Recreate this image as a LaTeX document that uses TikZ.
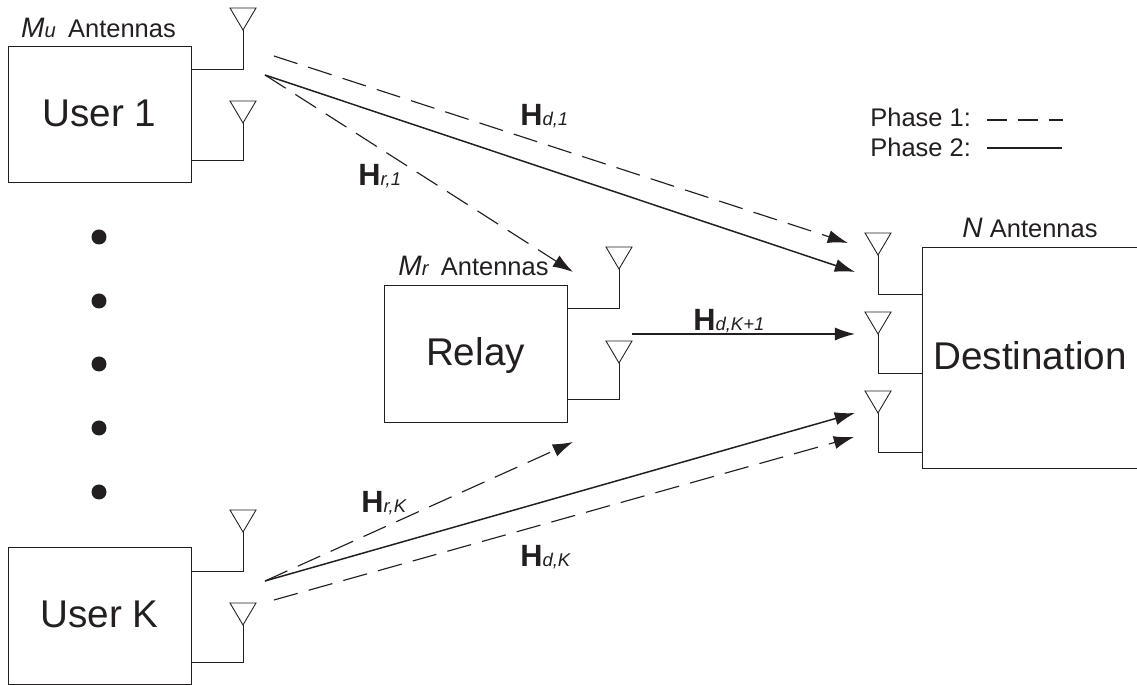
\documentclass[tikz,border=0pt]{standalone}
\usepackage{fontspec}
\setmainfont{Liberation Sans}
\usetikzlibrary{arrows.meta}

\definecolor{inkdark}{HTML}{231F20}
\newcommand{\chan}[1]{{\fontsize{17.5}{18}\selectfont\bfseries H}{\fontsize{10.5}{12}\selectfont\itshape #1}}
\newcommand{\ants}[1]{{\fontsize{16}{18}\selectfont\itshape #1}}
\newcommand{\antsub}[1]{{\fontsize{11.5}{12}\selectfont\itshape #1}}

\tikzset{
  unit/.style={draw=inkdark, line width=0.55pt, inner sep=0pt, minimum width=3.66cm, minimum height=2.74cm,
    text=inkdark, text height=15.75pt, text depth=2.3pt, font=\fontsize{22}{26}\selectfont},
  txt/.style={inner sep=0pt, text=inkdark, font=\fontsize{14.5}{16}\selectfont},
  chlabel/.style={inner sep=0pt, text=inkdark, anchor=base west},
  wire/.style={draw=inkdark, line width=0.5pt},
  phaseone/.style={draw=inkdark, line width=0.65pt, dash pattern=on 14pt off 6.5pt, -{Latex[length=11.5pt,width=7.5pt]}},
  phasetwo/.style={draw=inkdark, line width=0.85pt, -{Latex[length=11.5pt,width=7.5pt]}},
}

\begin{document}
\begin{tikzpicture}[x=0.02cm, y=-0.02cm]
  \useasboundingbox (0,0) rectangle (1137,685);

  % Boxes
  \node[unit] (user1) at (99.5,114.5) {User 1};
  \node[unit] (userk) at (99.5,616) {User K};
  \node[unit] (relay) at (475.5,354) {Relay};
  \node[unit, draw=none, minimum width=4.28cm, minimum height=4.4cm] (dest) at (1030,358) {Destination};
  \draw[wire] (dest.north east) -- (dest.north west) -- (dest.south west) -- (dest.south east);

  % Antennas: tip, then the point where the feed meets the box
  \foreach \tx/\ty/\fx/\fy in {243/30/191/69, 243/123/191/160, 243/532/191/571, 243/625/191/662,
                               619/269/567/308, 619/363/567/399,
                               878/255/923/294, 878/334/923/373, 878/413/923/452} {
    \draw[wire] (\tx,\ty) -- ++(-13,-22) -- ++(26,0) -- cycle;
    \draw[wire] (\tx,\ty) |- (\fx,\fy);
  }

  % Dots
  \foreach \y in {237,301,364,428,492} {
    \fill[inkdark] (99,\y) circle (7.5);
  }

  % Channel end points
  \coordinate (u1a) at (274,56);
  \coordinate (u1b) at (265,75);
  \coordinate (uka) at (265,581);
  \coordinate (ukb) at (274,600);
  \coordinate (ra) at (632,334);
  \coordinate (da) at (848,243);
  \coordinate (db) at (855,272);
  \coordinate (dc) at (855,334);
  \coordinate (dd) at (855,413);
  \coordinate (de) at (854,437);
  \coordinate (rb) at (573,272);
  \coordinate (rc) at (573,442);

  \draw[phaseone] (u1a) -- (da);
  \draw[phasetwo] (u1b) -- (db);
  \draw[phaseone] (u1b) -- (rb);
  \draw[phasetwo] (ra) -- (dc);
  \draw[phasetwo] (uka) -- (dd);
  \draw[phaseone] (uka) -- (rc);
  \draw[phaseone] (ukb) -- (de);

  % Labels
  \node[chlabel] (hd1) at (520,126) {\chan{d,1}};
  \node[chlabel] (hr1) at (358,186) {\chan{r,1}};
  \node[chlabel] (hdk1) at (693,331) {\chan{d,K+1}};
  \node[chlabel] (hrk) at (361,513) {\chan{r,K}};
  \node[chlabel] (hdk) at (520,567) {\chan{d,K}};

  \node[txt] (mu) at (98.5,28) {\ants{M}\antsub{u}\hspace{7pt}Antennas};
  \node[txt] (mr) at (473.5,266) {\ants{M}\antsub{r}\hspace{7pt}Antennas};
  \node[txt] (nn) at (1030,228) {\ants{N} Antennas};

  % Legend
  \node[txt, anchor=base west] (ph1) at (870,127) {Phase 1:};
  \node[txt, anchor=base west] (ph2) at (870,157) {Phase 2:};
  \coordinate (l1a) at (987,120);
  \coordinate (l1b) at (1063,120);
  \coordinate (l2a) at (987,148);
  \coordinate (l2b) at (1062,148);
  \draw[inkdark, line width=0.9pt, dash pattern=on 11.3pt off 6.2pt] (l1a) -- (l1b);
  \draw[inkdark, line width=0.9pt] (l2a) -- (l2b);
\end{tikzpicture}
\end{document}
